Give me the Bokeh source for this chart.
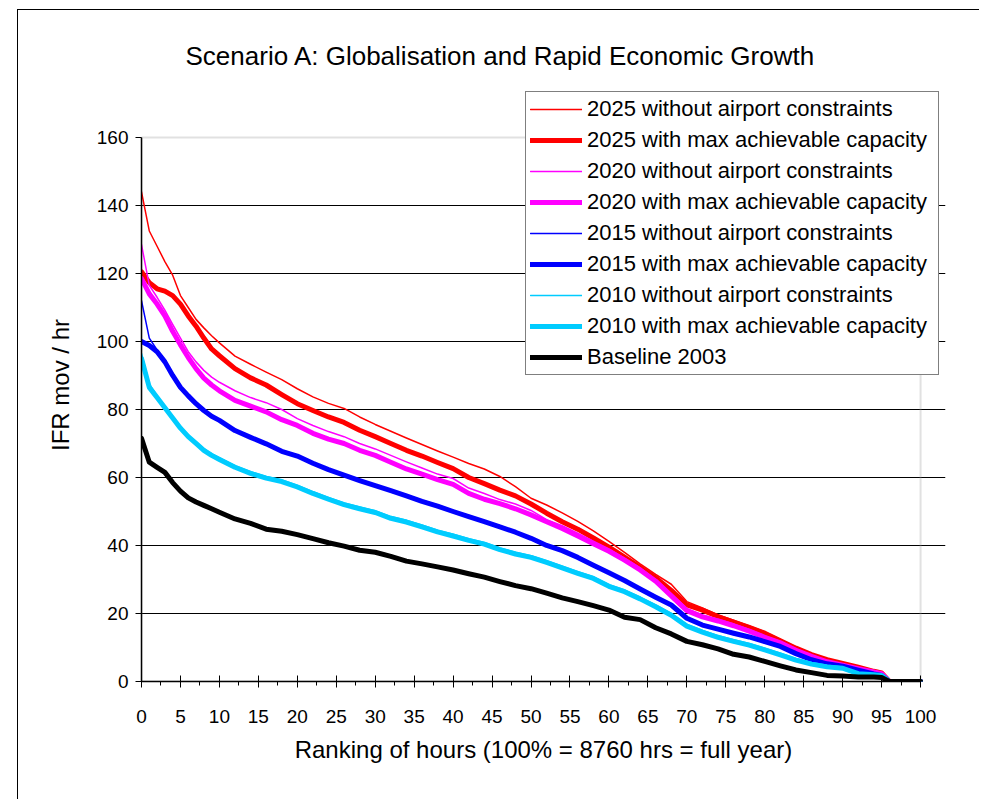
from bokeh.plotting import figure
from bokeh.models import FixedTicker, BoxAnnotation
from bokeh.embed import file_html
from bokeh.resources import INLINE

# Ranking of hours (% of the year)
X = [0, 1, 2, 3, 4, 5, 6, 7, 8, 9, 10,
     12, 14, 16, 18, 20, 22, 24, 26, 28, 30,
     32, 34, 36, 38, 40, 42, 44, 46, 48, 50,
     52, 54, 56, 58, 60, 62, 64, 66, 68, 70,
     72, 74, 76, 78, 80, 82, 84, 86, 88, 90,
     92, 94, 95, 96, 98, 100]

y2025_free = [144, 132.5, 128, 123.5, 119.5, 113.5, 110, 106.5, 104, 101.7, 99.6,
              95.7, 93.3, 91, 88.8, 86.1, 83.7, 81.8, 80.3, 77.8, 75.6,
              73.6, 71.6, 69.7, 67.8, 66, 64.1, 62.5, 60.3, 57.3, 53.9,
              51.9, 49.6, 47.1, 44.3, 41.2, 38, 34.6, 31.5, 28.6, 23.5,
              21.6, 19.6, 18, 16.3, 14.6, 12.4, 10.2, 8.2, 6.6, 5.5,
              4.3, 3.1, 2.6, 0, 0, 0]
y2025_cap = [120.5, 117.3, 115.5, 114.8, 113.5, 111, 107.5, 104.5, 101, 97.8, 95.8,
             92, 89.3, 87.2, 84.4, 81.7, 79.7, 77.8, 76.2, 73.9, 72,
             70, 68, 66.3, 64.4, 62.6, 60, 58.2, 56.3, 54.6, 52.2,
             49.5, 47, 44.8, 42.2, 39.5, 36.6, 33.6, 30.5, 26.8, 22.5,
             21, 19.1, 17.5, 15.9, 14.2, 12, 9.8, 7.9, 6.4, 5.3,
             4.2, 3, 2.5, 0, 0, 0]
y2020_free = [128.5, 116.5, 113, 109.2, 105, 101, 97, 94, 91.5, 89.5, 88,
              85.5, 83.5, 82, 80, 77.3, 75.3, 73.5, 72, 70, 68.4,
              66.5, 64.6, 62.8, 61, 59.7, 56.9, 55.3, 53.5, 52.2, 50.3,
              47.6, 45.8, 43.6, 41.3, 39, 36.3, 33.4, 30, 25.8, 21.5,
              19.6, 18.3, 16.9, 15.3, 13.4, 11.8, 9.6, 7.7, 6, 5,
              4, 3, 2.4, 0, 0, 0]
y2020_cap = [118.5, 114, 111, 107.5, 103, 99, 95.3, 92, 89.2, 87.2, 85.5,
             82.7, 81, 79.3, 77, 75.3, 73, 71.3, 70, 68, 66.5,
             64.5, 62.5, 61, 59.4, 58, 55.3, 53.6, 52.3, 50.8, 49,
             47, 45, 42.8, 40.5, 38.3, 35.7, 32.8, 29.5, 25.2, 20.8,
             19, 17.8, 16.4, 14.8, 13, 11.4, 9.2, 7.4, 5.8, 4.8,
             3.8, 2.8, 2.3, 0, 0, 0]
y2015_free = [112, 101, 97.5, 94.3, 90.3, 86.8, 84.3, 82, 80, 78.3, 77.1,
              74.1, 72.1, 70.2, 68, 66.6, 64.5, 62.6, 61, 59.4, 57.9,
              56.4, 54.9, 53.3, 51.9, 50.3, 48.8, 47.3, 45.8, 44.2, 42.4,
              40.3, 38.8, 36.8, 34.5, 32.3, 30, 27.5, 25.1, 22.8, 18.9,
              16.9, 15.7, 14.5, 13.4, 12, 10.6, 8.5, 6.7, 5.5, 4.8,
              3.6, 2.5, 2, 0, 0, 0]
y2015_cap = [100, 98.8, 97, 94, 90, 86.5, 84, 81.7, 79.7, 78, 76.8,
             73.8, 71.8, 69.9, 67.7, 66.3, 64.2, 62.3, 60.7, 59.1, 57.6,
             56.1, 54.6, 53, 51.6, 50, 48.5, 47, 45.5, 43.9, 42.1,
             40, 38.5, 36.5, 34.2, 32, 29.7, 27.2, 24.8, 22.5, 18.6,
             16.6, 15.4, 14.2, 13.1, 11.7, 10.3, 8.2, 6.4, 5.2, 4.5,
             3.3, 2.2, 1.8, 0, 0, 0]
y2010_free = [96.5, 87.5, 84, 81, 78, 75, 72.5, 70.5, 68.5, 67, 65.8,
              63.5, 61.7, 60.3, 59.3, 57.7, 55.8, 54.1, 52.5, 51.3, 50.2,
              48.5, 47.4, 46, 44.5, 43.3, 42, 40.9, 39.3, 38, 37,
              35.5, 33.9, 32.3, 30.8, 28.5, 26.9, 24.8, 22.5, 20, 16.8,
              15, 13.5, 12.3, 11.2, 9.8, 8.3, 6.8, 5.6, 4.8, 4.3,
              2.6, 2.2, 2, 0, 0, 0]
y2010_cap = [95, 86.5, 83.5, 80.5, 77.5, 74.5, 72, 70, 68, 66.5, 65.3,
             63, 61.2, 59.8, 58.8, 57.2, 55.3, 53.6, 52, 50.8, 49.7,
             48, 46.9, 45.5, 44, 42.8, 41.5, 40.4, 38.8, 37.5, 36.5,
             35, 33.4, 31.8, 30.3, 28, 26.4, 24.3, 22, 19.5, 16.3,
             14.5, 13, 11.8, 10.7, 9.3, 7.8, 6.3, 5.1, 4.3, 3.9,
             2.3, 2, 1.8, 0, 0, 0]
y2003 = [71.5, 64.5, 63, 61.5, 58.5, 56, 54, 52.8, 51.8, 50.8, 49.8,
         47.8, 46.5, 44.8, 44.2, 43.2, 42, 40.8, 39.8, 38.6, 38,
         36.8, 35.4, 34.6, 33.7, 32.8, 31.7, 30.7, 29.4, 28.2, 27.3,
         26, 24.6, 23.5, 22.3, 21, 18.9, 18.2, 15.8, 14, 11.8,
         10.8, 9.6, 8, 7.2, 5.9, 4.6, 3.4, 2.6, 1.8, 1.6,
         1.3, 1.3, 1.2, 0, 0, 0]

series = [
    ("2025 without airport constraints", y2025_free, "#FF0000", 1.5),
    ("2025 with max achievable capacity", y2025_cap, "#FF0000", 5),
    ("2020 without airport constraints", y2020_free, "#FF00FF", 1.5),
    ("2020 with max achievable capacity", y2020_cap, "#FF00FF", 5),
    ("2015 without airport constraints", y2015_free, "#0000FF", 1.5),
    ("2015 with max achievable capacity", y2015_cap, "#0000FF", 5),
    ("2010 without airport constraints", y2010_free, "#00CCFF", 1.5),
    ("2010 with max achievable capacity", y2010_cap, "#00CCFF", 5),
    ("Baseline 2003", y2003, "#000000", 5),
]

TITLE = "Scenario A: Globalisation and Rapid Economic Growth"
XLABEL = "Ranking of hours (100% = 8760 hrs = full year)"
YLABEL = "IFR mov / hr"
X_TICKS = list(range(0, 101, 5))
Y_TICKS = list(range(0, 161, 20))

FONT = "Liberation Sans"

# frame is a little larger than the axes so the legend (which overhangs the
# plot area in the original) is not clipped
p = figure(width=962, height=790, x_range=(0, 103.2), y_range=(0, 174.4),
           output_backend="svg", toolbar_location=None,
           min_border_left=123, min_border_right=35,
           min_border_top=78, min_border_bottom=119)
p.styles = {"margin-left": "17px", "margin-top": "9px",
            "border-left": "1px solid black", "border-top": "1px solid black"}

p.title.text = TITLE
p.title.align = "left"
p.title.offset = 44
p.title.standoff = 36
p.title.text_font = FONT
p.title.text_font_size = "26px"
p.title.text_font_style = "normal"
p.title.text_color = "black"

p.background_fill_color = "white"
p.border_fill_color = "white"
p.outline_line_color = None

p.xgrid.visible = False
p.ygrid.ticker = FixedTicker(ticks=Y_TICKS[1:-1])
p.ygrid.grid_line_color = "black"
p.ygrid.grid_line_width = 1

# plot-area border (grey, top and right visible)
p.add_layout(BoxAnnotation(left=X_TICKS[0], right=X_TICKS[-1],
                           bottom=Y_TICKS[0], top=Y_TICKS[-1],
                           fill_alpha=0, line_color="#9a9a9a", line_width=2,
                           level="underlay"))

for name, ys, color, w in series:
    p.line(X, ys, line_color=color, line_width=w, legend_label=name,
           line_join="round", line_cap="round")

p.xaxis.bounds = (X_TICKS[0], X_TICKS[-1])
p.xaxis.ticker = FixedTicker(ticks=X_TICKS, minor_ticks=[t + 2.5 for t in X_TICKS[:-1]])
p.xaxis.major_tick_in = 6
p.xaxis.major_tick_out = 6
p.xaxis.minor_tick_in = 0
p.xaxis.minor_tick_out = 4
p.xaxis.major_label_standoff = 22
p.xaxis.axis_label = XLABEL
p.xaxis.axis_label_standoff = 10

p.yaxis.bounds = (Y_TICKS[0], Y_TICKS[-1])
p.yaxis.ticker = FixedTicker(ticks=Y_TICKS, minor_ticks=[])
p.yaxis.major_tick_in = 0
p.yaxis.major_tick_out = 6
p.yaxis.minor_tick_out = 0
p.yaxis.major_label_standoff = 7
p.yaxis.axis_label = YLABEL
p.yaxis.axis_label_standoff = 20

for ax in (p.xaxis, p.yaxis):
    ax.axis_line_color = "black"
    ax.axis_line_width = 1.5
    ax.major_tick_line_color = "black"
    ax.minor_tick_line_color = "black"
    ax.major_label_text_font = FONT
    ax.major_label_text_font_size = "19px"
    ax.major_label_text_color = "black"
    ax.axis_label_text_font = FONT
    ax.axis_label_text_font_size = "24px"
    ax.axis_label_text_font_style = "normal"
    ax.axis_label_text_color = "black"

lg = p.legend[0]
lg.location = (384, 306)
lg.border_line_color = "black"
lg.border_line_width = 1
lg.background_fill_color = "white"
lg.background_fill_alpha = 1
lg.label_text_font = FONT
lg.label_text_font_size = "22px"
lg.label_text_color = "black"
lg.glyph_width = 52
lg.glyph_height = 22
lg.label_height = 22
lg.label_width = 347
lg.label_standoff = 5
lg.spacing = 5
lg.padding = 4
lg.margin = 0

open("out.html", "w").write(file_html(p, INLINE))
